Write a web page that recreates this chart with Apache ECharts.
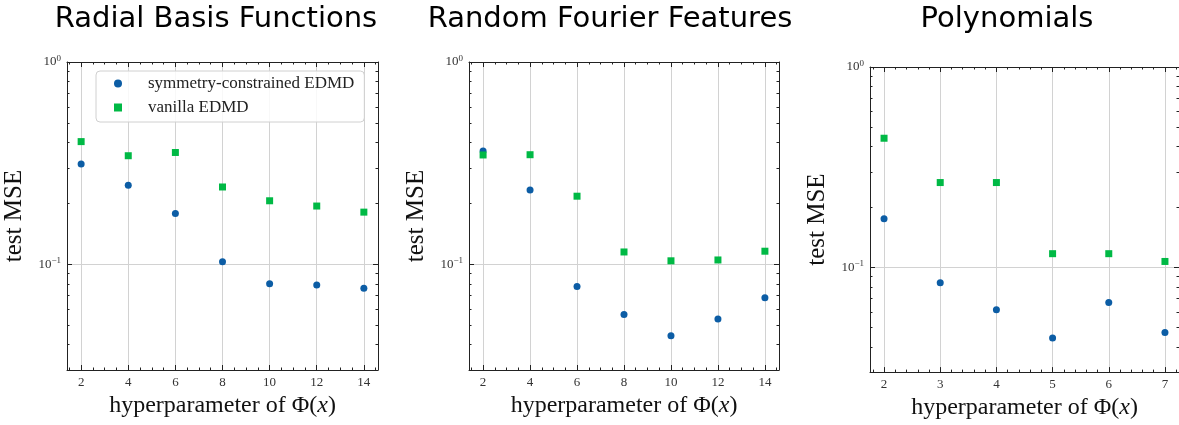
<!DOCTYPE html>
<html>
<head>
<meta charset="utf-8">
<script src="https://cdn.jsdelivr.net/npm/echarts@6/dist/echarts.min.js"></script>
<style>
html, body { margin: 0; padding: 0; background: #fff; }
#chart { width: 1179px; height: 425px; }
</style>
</head>
<body>
<div id="chart"></div>
<script>
// 数据
var titles = ['Radial Basis Functions', 'Random Fourier Features', 'Polynomials'];
var seriesNames = ['symmetry-constrained EDMD', 'vanilla EDMD'];

var rbfX = [2, 4, 6, 8, 10, 12, 14];
var rbfSym = [0.313, 0.246, 0.178, 0.103, 0.080, 0.079, 0.076];
var rbfVan = [0.404, 0.344, 0.357, 0.241, 0.206, 0.194, 0.181];

var rffX = [2, 4, 6, 8, 10, 12, 14];
var rffSym = [0.363, 0.233, 0.0776, 0.0565, 0.0443, 0.0536, 0.0683];
var rffVan = [0.347, 0.348, 0.217, 0.115, 0.104, 0.105, 0.116];

var polyX = [2, 3, 4, 5, 6, 7];
var polySym = [0.175, 0.0837, 0.0614, 0.0444, 0.0667, 0.0473];
var polyVan = [0.441, 0.265, 0.265, 0.117, 0.117, 0.107];

var evenTicks = [2, 4, 6, 8, 10, 12, 14];
var intTicks = [2, 3, 4, 5, 6, 7];
var yTicks = [1, 0.1];
var yMinorTicks = [0.04, 0.05, 0.06, 0.07, 0.08, 0.09, 0.2, 0.3, 0.4, 0.5, 0.6, 0.7, 0.8, 0.9];
var yMin = 0.03, yMax = 1;

// 布局
var panels = [
    {x: rbfX, sym: rbfSym, van: rbfVan, ticks: evenTicks, minorStep: 0.5, xMin: 1.4, xMax: 14.6,
     grid: {left: 67, top: 62, width: 311, height: 308}, titleX: 216},
    {x: rffX, sym: rffSym, van: rffVan, ticks: evenTicks, minorStep: 0.5, xMin: 1.4, xMax: 14.6,
     grid: {left: 469, top: 62, width: 310, height: 308}, titleX: 610},
    {x: polyX, sym: polySym, van: polyVan, ticks: intTicks, minorStep: 0.2, xMin: 1.75, xMax: 7.25,
     grid: {left: 870, top: 67, width: 310, height: 308}, titleX: 1007}
];

var serif = 'Liberation Serif';
var frame = '#222';

function minorList(p) {
    var out = [];
    var major = p.ticks[1] - p.ticks[0];
    var start = Math.ceil(p.xMin / p.minorStep) * p.minorStep;
    for (var v = start; v <= p.xMax + 1e-9; v += p.minorStep) {
        var r = +v.toFixed(3);
        if (Math.abs(r / major - Math.round(r / major)) > 1e-6) out.push(r);
    }
    return out;
}

var logMajor = yTicks.map(function (v) { return Math.log10(v); });
var logMinor = yMinorTicks.map(function (v) { return Math.log10(v); });

function blankAxis(extra) {
    var a = {
        axisLine: {show: false, onZero: false},
        axisTick: {show: false},
        axisLabel: {show: false},
        splitLine: {show: false}
    };
    for (var k in extra) a[k] = extra[k];
    return a;
}

var grids = [], xAxes = [], yAxes = [], series = [], titleList = [];

panels.forEach(function (p, i) {
    grids.push(p.grid);
    titleList.push({
        text: titles[i], left: p.titleX, top: 5, textAlign: 'center', padding: 0,
        textStyle: {fontFamily: 'DejaVu Sans', fontSize: 29, fontWeight: 'normal', color: '#000'}
    });
    var minors = minorList(p);
    var line = {show: true, onZero: false, lineStyle: {color: frame, width: 1}};

    // x 轴：下方主刻度 / 下方次刻度 / 上方主刻度 / 上方次刻度
    xAxes.push(blankAxis({
        gridIndex: i, type: 'value', min: p.xMin, max: p.xMax, position: 'bottom',
        axisLine: line,
        axisTick: {show: true, inside: true, length: 5, customValues: p.ticks, lineStyle: {color: frame}},
        axisLabel: {show: true, customValues: p.ticks, margin: 6, fontFamily: serif, fontSize: 13, color: '#333'},
        splitLine: {show: true, lineStyle: {color: '#d2d2d2', width: 1}},
        name: 'hyperparameter of \u03a6({i|x})', nameLocation: 'middle', nameGap: 22,
        nameTextStyle: {fontFamily: serif, fontSize: 24, color: '#111',
            rich: {i: {fontFamily: serif, fontSize: 24, fontStyle: 'italic', color: '#111'}}}
    }));
    xAxes.push(blankAxis({
        gridIndex: i, type: 'value', min: p.xMin, max: p.xMax, position: 'bottom',
        axisTick: {show: true, inside: true, length: 2.5, customValues: minors, lineStyle: {color: frame}}
    }));
    xAxes.push(blankAxis({
        gridIndex: i, type: 'value', min: p.xMin, max: p.xMax, position: 'top',
        axisLine: line,
        axisTick: {show: true, inside: true, length: 5, customValues: p.ticks, lineStyle: {color: frame}}
    }));
    xAxes.push(blankAxis({
        gridIndex: i, type: 'value', min: p.xMin, max: p.xMax, position: 'top',
        axisTick: {show: true, inside: true, length: 2.5, customValues: minors, lineStyle: {color: frame}}
    }));

    // y 轴：数据用对数轴，刻度用对数值轴
    var lo = Math.log10(yMin), hi = Math.log10(yMax);
    yAxes.push({gridIndex: i, type: 'log', logBase: 10, min: yMin, max: yMax, show: false});
    yAxes.push(blankAxis({
        gridIndex: i, type: 'value', min: lo, max: hi, position: 'left',
        axisLine: line,
        axisTick: {show: true, inside: true, length: 5, customValues: logMajor, lineStyle: {color: frame}},
        axisLabel: {
            show: true, customValues: logMajor, margin: 6,
            formatter: function (v) {
                var e = Math.round(v);
                return '{b|10}{s|' + (e < 0 ? '\u2212' + (-e) : e) + '}';
            },
            rich: {
                b: {fontFamily: serif, fontSize: 13, color: '#333', lineHeight: 16},
                s: {fontFamily: serif, fontSize: 9, color: '#333', verticalAlign: 'top', lineHeight: 9}
            }
        },
        splitLine: {show: true, lineStyle: {color: '#d2d2d2', width: 1}},
        name: 'test MSE', nameLocation: 'middle', nameGap: 40,
        nameTextStyle: {fontFamily: serif, fontSize: 25, color: '#111'}
    }));
    yAxes.push(blankAxis({
        gridIndex: i, type: 'value', min: lo, max: hi, position: 'left',
        axisTick: {show: true, inside: true, length: 2.5, customValues: logMinor, lineStyle: {color: frame}}
    }));
    yAxes.push(blankAxis({
        gridIndex: i, type: 'value', min: lo, max: hi, position: 'right',
        axisLine: line,
        axisTick: {show: true, inside: true, length: 5, customValues: logMajor, lineStyle: {color: frame}}
    }));
    yAxes.push(blankAxis({
        gridIndex: i, type: 'value', min: lo, max: hi, position: 'right',
        axisTick: {show: true, inside: true, length: 2.5, customValues: logMinor, lineStyle: {color: frame}}
    }));

    series.push({
        name: seriesNames[0], type: 'scatter', xAxisIndex: i * 4, yAxisIndex: i * 5,
        symbol: 'circle', symbolSize: 7, itemStyle: {color: '#0C5DA5', opacity: 1},
        data: p.x.map(function (v, k) { return [v, p.sym[k]]; })
    });
    series.push({
        name: seriesNames[1], type: 'scatter', xAxisIndex: i * 4, yAxisIndex: i * 5,
        symbol: 'rect', symbolSize: 7, itemStyle: {color: '#00B945', opacity: 1},
        data: p.x.map(function (v, k) { return [v, p.van[k]]; })
    });
});

var myChart = echarts.init(document.getElementById('chart'));
myChart.setOption({
    animation: false,
    backgroundColor: '#fff',
    title: titleList,
    legend: {
        data: seriesNames,
        orient: 'vertical',
        left: 96, top: 71,
        padding: [4, 10, 6, 18],
        itemWidth: 8, itemHeight: 8, itemGap: 7,
        backgroundColor: 'rgba(255,255,255,0.85)',
        borderColor: '#d0d0d0', borderWidth: 1, borderRadius: 4,
        textStyle: {fontFamily: serif, fontSize: 17, color: '#222', lineHeight: 17, padding: [0, 0, 0, 21]}
    },
    grid: grids,
    xAxis: xAxes,
    yAxis: yAxes,
    series: series
});
</script>
</body>
</html>
